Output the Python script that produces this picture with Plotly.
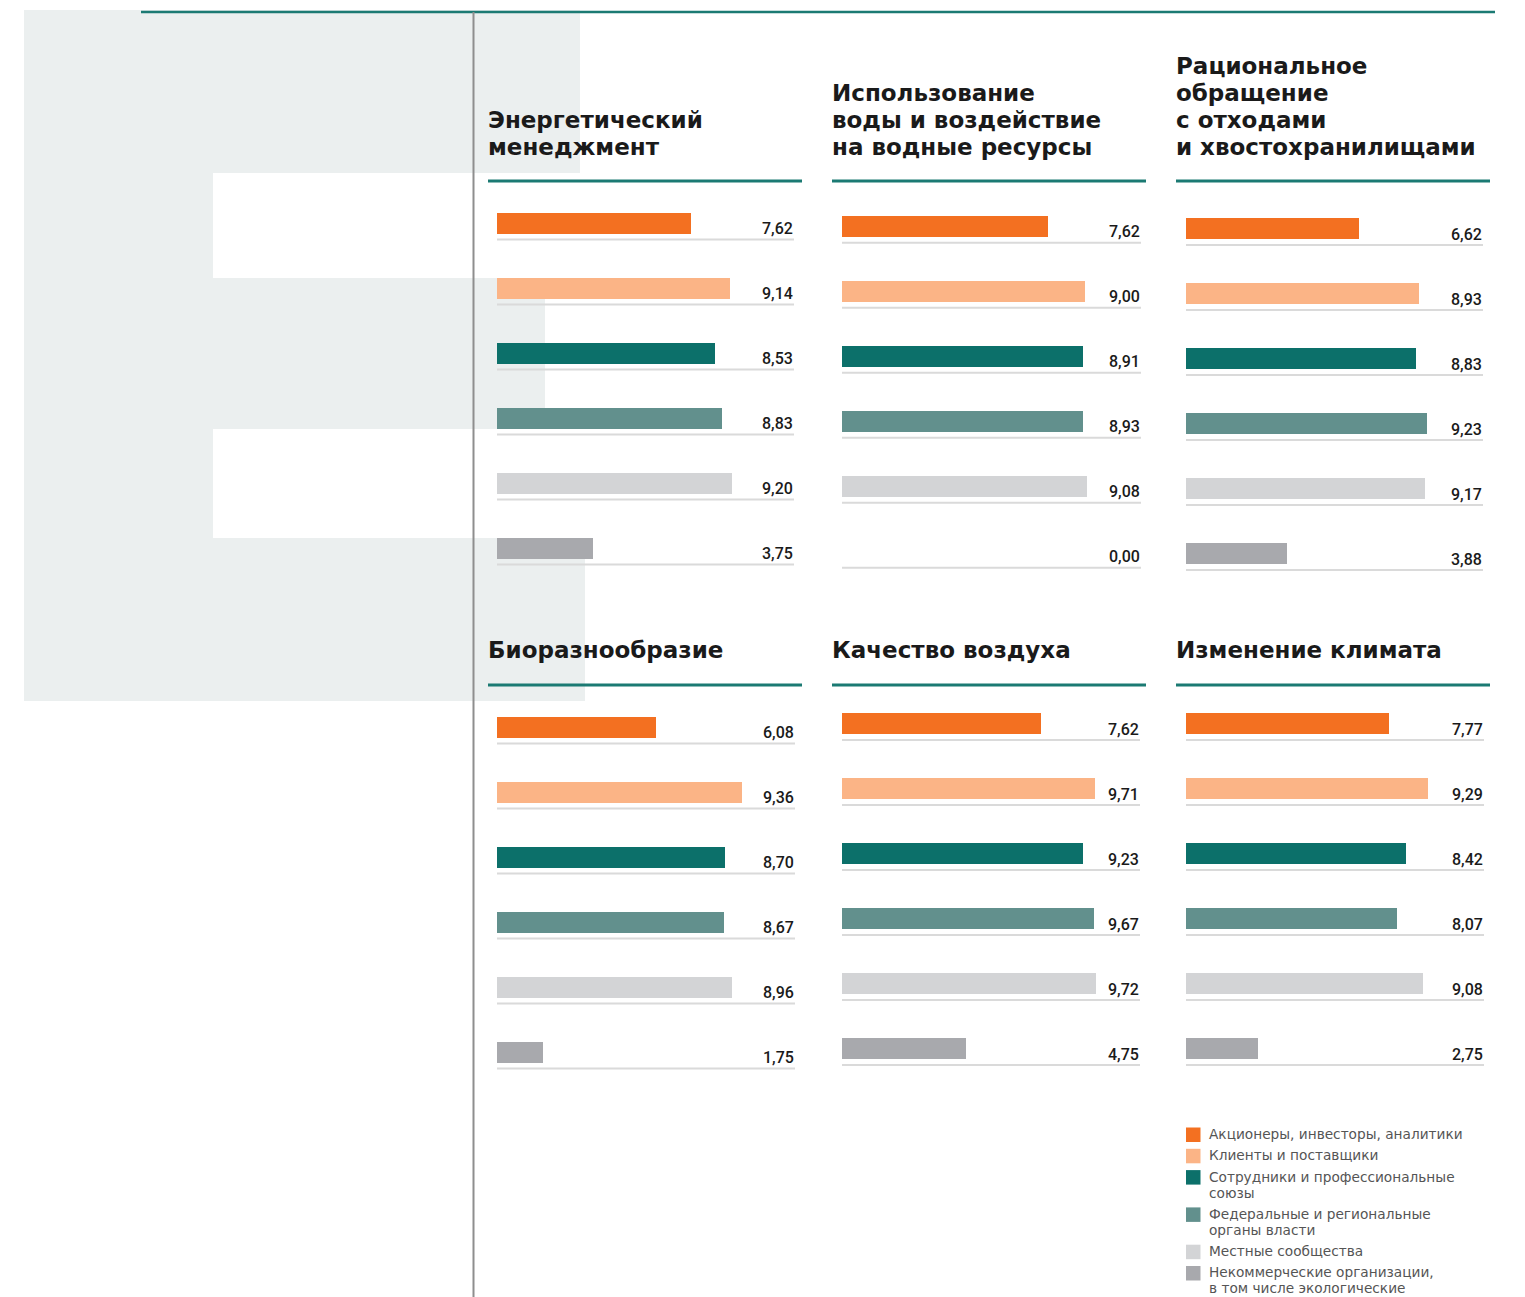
import plotly.graph_objects as go

W, H = 1525, 1297

# ---- data -------------------------------------------------------------
stakeholders = [
    "Акционеры, инвесторы, аналитики",
    "Клиенты и поставщики",
    "Сотрудники и профессиональные<br>союзы",
    "Федеральные и региональные<br>органы власти",
    "Местные сообщества",
    "Некоммерческие организации,<br>в том числе экологические",
]

topics = [
    "Энергетический<br>менеджмент",
    "Использование<br>воды и воздействие<br>на водные ресурсы",
    "Рациональное<br>обращение<br>с отходами<br>и хвостохранилищами",
    "Биоразнообразие",
    "Качество воздуха",
    "Изменение климата",
]

energy = [7.62, 9.14, 8.53, 8.83, 9.20, 3.75]
water = [7.62, 9.00, 8.91, 8.93, 9.08, 0.00]
waste = [6.62, 8.93, 8.83, 9.23, 9.17, 3.88]
biodiversity = [6.08, 9.36, 8.70, 8.67, 8.96, 1.75]
air = [7.62, 9.71, 9.23, 9.67, 9.72, 4.75]
climate = [7.77, 9.29, 8.42, 8.07, 9.08, 2.75]

series = [energy, water, waste, biodiversity, air, climate]

# ---- styling ----------------------------------------------------------
colors = ["#F37021", "#FBB486", "#0C706A", "#62908D", "#D3D4D6", "#A8A9AD"]
TEAL = "#1B7A73"
BG_GRAY = "#EBEFEF"
RULE_GRAY = "#DADADA"
TITLE_FONT = dict(family="DejaVu Sans", size=23, color="#1a1a1a", weight=600)
TITLE_LEAD = 27
VALUE_FONT = dict(family="Roboto", size=16, color="#1a1a1a", weight=500)
LEGEND_FONT = dict(family="DejaVu Sans", size=13.7, color="#555555")
LEGEND_LEAD = 16

# panel geometry in pixels: column left edge, bar origin, axis length,
# pixels per unit, first bar centre, title baseline, title rule
panels = [
    dict(left=488, x0=497, length=297, ppu=25.5, c0=223.0, base=155, rule=181),
    dict(left=832, x0=842, length=299, ppu=27.0, c0=226.3, base=155, rule=181),
    dict(left=1176, x0=1186, length=297, ppu=26.1, c0=228.5, base=155, rule=181),
    dict(left=488, x0=497, length=298, ppu=26.2, c0=727.0, base=658, rule=685),
    dict(left=832, x0=842, length=298, ppu=26.1, c0=723.5, base=658, rule=685),
    dict(left=1176, x0=1186, length=298, ppu=26.1, c0=723.5, base=658, rule=685),
]
ROW_STEP = 65.0      # px between bars
BAR_W = 20.5 / ROW_STEP
RULE_OFF = 16.5 / ROW_STEP
LABEL_OFF = 5.5 / ROW_STEP


def px(x):
    return x / W


def py(y):
    return 1 - y / H


fig = go.Figure()
shapes = []
annotations = []
layout_axes = {}

# big decorative "E" behind the first column
for x0, y0, x1, y1 in [(24, 10, 580, 173), (24, 173, 213, 701),
                       (213, 278, 545, 429), (213, 538, 585, 701)]:
    shapes.append(dict(type="rect", xref="paper", yref="paper",
                       x0=px(x0), x1=px(x1), y0=py(y1), y1=py(y0),
                       fillcolor=BG_GRAY, line_width=0, layer="below"))

# page frame lines
shapes.append(dict(type="line", xref="paper", yref="paper",
                   x0=px(141), x1=px(1495), y0=py(12), y1=py(12),
                   line=dict(color=TEAL, width=2.5)))
shapes.append(dict(type="line", xref="paper", yref="paper",
                   x0=px(473.5), x1=px(473.5), y0=py(12), y1=0,
                   line=dict(color="#8E8E8E", width=2)))

for k, (p, vals, title) in enumerate(zip(panels, series, topics), start=1):
    xa = "x" if k == 1 else f"x{k}"
    ya = "y" if k == 1 else f"y{k}"
    top = p["c0"] - ROW_STEP / 2
    bottom = top + 6 * ROW_STEP
    layout_axes[f"xaxis{'' if k == 1 else k}"] = dict(
        domain=[px(p["x0"]), px(p["x0"] + p["length"])],
        range=[0, p["length"] / p["ppu"]], anchor=ya,
        visible=False, fixedrange=True)
    layout_axes[f"yaxis{'' if k == 1 else k}"] = dict(
        domain=[py(bottom), py(top)], range=[5.5, -0.5], anchor=xa,
        visible=False, fixedrange=True)

    fig.add_trace(go.Bar(
        x=vals, y=list(range(len(vals))), orientation="h",
        marker=dict(color=colors, line_width=0), width=BAR_W,
        xaxis=xa, yaxis=ya, showlegend=False,
        hovertext=[s.replace("<br>", " ") for s in stakeholders],
        hoverinfo="text+x"))

    for i, v in enumerate(vals):
        shapes.append(dict(type="line", xref=f"{xa} domain", yref=ya,
                           x0=0, x1=1, y0=i + RULE_OFF, y1=i + RULE_OFF,
                           line=dict(color=RULE_GRAY, width=2)))
        annotations.append(dict(xref=f"{xa} domain", yref=ya, x=1, y=i + LABEL_OFF,
                                text=f"{v:.2f}".replace(".", ","),
                                xanchor="right", yanchor="middle", xshift=1,
                                showarrow=False, font=VALUE_FONT))

    # panel title, one annotation per line so the leading stays tight
    lines = title.split("<br>")
    n = len(lines)
    for j, line in enumerate(lines):
        baseline = p["base"] - (n - 1 - j) * TITLE_LEAD
        annotations.append(dict(xref="paper", yref="paper",
                                x=px(p["left"]), y=py(baseline - 8),
                                text=line, xanchor="left", yanchor="middle",
                                xshift=-2, showarrow=False, font=TITLE_FONT))
    shapes.append(dict(type="line", xref="paper", yref="paper",
                       x0=px(p["left"]), x1=px(p["left"] + 314),
                       y0=py(p["rule"]), y1=py(p["rule"]),
                       line=dict(color=TEAL, width=3)))

# legend
cursor = 1134.0
for name, col in zip(stakeholders, colors):
    parts = name.split("<br>")
    shapes.append(dict(type="rect", xref="paper", yref="paper",
                       x0=px(1186), x1=px(1200.5),
                       y0=py(cursor + 8), y1=py(cursor - 6.5),
                       fillcolor=col, line_width=0))
    for j, part in enumerate(parts):
        annotations.append(dict(xref="paper", yref="paper",
                                x=px(1207), y=py(cursor + LEGEND_LEAD * j),
                                text=part, xanchor="left", yanchor="middle",
                                showarrow=False, font=LEGEND_FONT))
    cursor += LEGEND_LEAD * (len(parts) - 1) + 21.3

fig.update_layout(
    width=W, height=H,
    margin=dict(l=0, r=0, t=0, b=0),
    paper_bgcolor="white", plot_bgcolor="rgba(0,0,0,0)",
    shapes=shapes, annotations=annotations,
    bargap=0, showlegend=False,
    **layout_axes,
)

fig.write_html("out.html")
